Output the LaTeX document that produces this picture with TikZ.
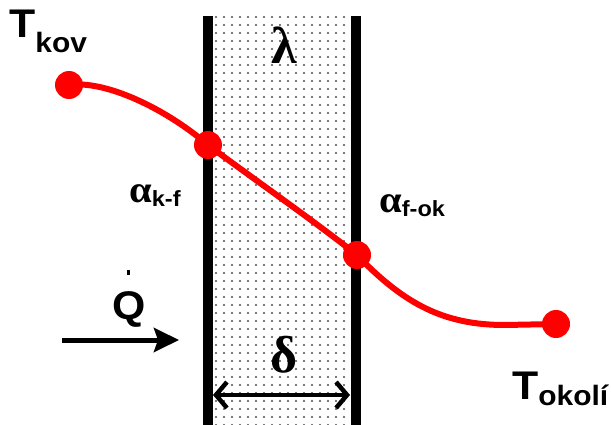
\documentclass[tikz,border=0pt]{standalone}
\usepackage{fontspec}
\setmainfont{Liberation Sans}
\newfontfamily\grk{Liberation Serif}
\usetikzlibrary{arrows.meta,patterns.meta}
\newcommand\wide[1]{\scalebox{1.07}[1]{#1}}
\tikzset{
  wall/.style={line width=10pt},
  redline/.style={red, line width=6pt},
  reddot/.style={circle, fill=red, minimum size=28pt, inner sep=0pt},
  lab/.style={inner sep=0pt, font=\bfseries},
  flowarrow/.style={line width=5pt, -{Stealth[length=25pt,width=24pt,inset=4pt]}},
  dimarrow/.style={line width=4.5pt, {Straight Barb[length=11pt,width=26pt]}-{Straight Barb[length=11pt,width=26pt]}},
}
\begin{document}
\begin{tikzpicture}[x=1pt,y=-1pt]
\useasboundingbox (0,0) rectangle (611,425);
% wall layer
\fill[pattern={Dots[distance=8pt,radius=1.2pt]}, pattern color=black!70] (213,16) rectangle (350,425);
\draw[wall] (208,16) -- (208,425);
\draw[wall] (355.5,16) -- (355.5,425);
% temperature profile
\node[reddot] (p1) at (69,85) {};
\node[reddot] (p2) at (208,145) {};
\node[reddot] (p3) at (357,255) {};
\node[reddot] (p4) at (556,324) {};
\draw[redline] (p1.center) .. controls (105,80) and (165,108) .. (p2.center)
  .. controls (255,180) and (310,218) .. (p3.center)
  .. controls (405,305) and (445,325) .. (505,325) -- (p4.center);
% labels
\node[lab, anchor=base west] (tkov) at (9,38) {\wide{\fontsize{40}{40}\selectfont T\raisebox{-15pt}{\fontsize{28}{28}\selectfont kov}}};
\node[lab, anchor=base west] (tokoli) at (512,399) {\wide{\fontsize{40}{40}\selectfont T\raisebox{-6pt}{\fontsize{28}{28}\selectfont okolí}}};
\node[lab, anchor=base] (lambda) at (284,64) {\fontsize{52}{52}\selectfont\grk\bfseries λ};
\node[lab, anchor=base] (delta) at (284,372) {\fontsize{52}{52}\selectfont\grk\bfseries δ};
\node[lab, anchor=base west] (akf) at (129,203) {\wide{{\fontsize{38}{38}\selectfont\grk\bfseries α}\raisebox{-4pt}{\fontsize{22}{22}\selectfont k-f}}};
\node[lab, anchor=base west] (afok) at (379,212) {\wide{{\fontsize{38}{38}\selectfont\grk\bfseries α}\raisebox{-5pt}{\fontsize{22}{22}\selectfont f-ok}}};
\node[lab, anchor=base west] (q) at (112,319) {\wide{\fontsize{40}{40}\selectfont Q}};
\fill (126.5,270) rectangle (130,274.5);
% heat flow arrow
\coordinate (qs) at (62,340);
\coordinate (qe) at (179,340);
\draw[flowarrow] (qs) -- (qe);
% thickness dimension
\coordinate (dl) at (213,395);
\coordinate (dr) at (350,395);
\draw[dimarrow] (dl) -- (dr);
\end{tikzpicture}
\end{document}
